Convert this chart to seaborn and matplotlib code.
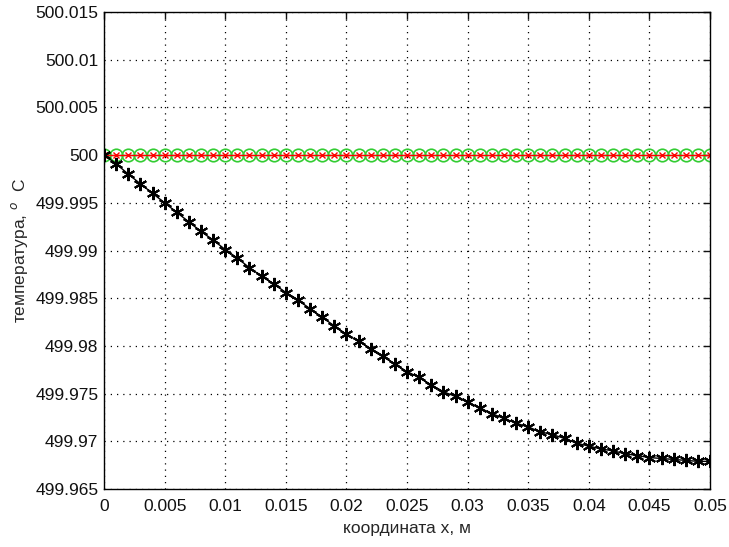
import numpy as np
import pandas as pd
import matplotlib
matplotlib.use("Agg")
import matplotlib.pyplot as plt
import seaborn as sns

# coordinate, m (sample points)
x_coord = [0.000, 0.001, 0.002, 0.003, 0.004, 0.005, 0.006, 0.007, 0.008, 0.009,
           0.010, 0.011, 0.012, 0.013, 0.014, 0.015, 0.016, 0.017, 0.018, 0.019,
           0.020, 0.021, 0.022, 0.023, 0.024, 0.025, 0.026, 0.027, 0.028, 0.029,
           0.030, 0.031, 0.032, 0.033, 0.034, 0.035, 0.036, 0.037, 0.038, 0.039,
           0.040, 0.041, 0.042, 0.043, 0.044, 0.045, 0.046, 0.047, 0.048, 0.049,
           0.050]

# temperature
temp_star = [500.0000, 499.9991, 499.9980, 499.9970, 499.9960, 499.9950, 499.9940,
             499.9930, 499.9920, 499.9911, 499.9901, 499.9892, 499.9882, 499.9873,
             499.9865, 499.9856, 499.9848, 499.9839, 499.9830, 499.9821, 499.9812,
             499.9805, 499.9797, 499.9789, 499.9781, 499.9773, 499.9767, 499.9759,
             499.9752, 499.9747, 499.9741, 499.9735, 499.9729, 499.9724, 499.9719,
             499.9715, 499.9710, 499.9707, 499.9703, 499.9698, 499.9695, 499.9692,
             499.9690, 499.9687, 499.9685, 499.9683, 499.9682, 499.9681, 499.9680,
             499.9679, 499.9679]

# flat curves at 500
temp_circle = [500.0] * 51
temp_cross = [500.0] * 51

xticks = [0, 0.005, 0.01, 0.015, 0.02, 0.025, 0.03, 0.035, 0.04, 0.045, 0.05]
xtick_labels = ["0", "0.005", "0.01", "0.015", "0.02", "0.025", "0.03", "0.035",
                "0.04", "0.045", "0.05"]
yticks = [499.965, 499.97, 499.975, 499.98, 499.985, 499.99, 499.995, 500,
          500.005, 500.01, 500.015]
ytick_labels = ["499.965", "499.97", "499.975", "499.98", "499.985", "499.99",
                "499.995", "500", "500.005", "500.01", "500.015"]

df = pd.DataFrame({"x": x_coord, "t_star": temp_star,
                   "t_circle": temp_circle, "t_cross": temp_cross})

sns.set_style("white")
plt.rcParams["font.family"] = ["Liberation Sans", "DejaVu Sans"]

fig = plt.figure(figsize=(7.29, 5.47), dpi=100)
ax = fig.add_axes([0.1427, 0.106, 0.8313, 0.872])

sns.lineplot(data=df, x="x", y="t_circle", ax=ax, color="#22cc22", linewidth=1,
             marker="o", markersize=9, markerfacecolor="none",
             markeredgecolor="#33cc33", markeredgewidth=1.2)
sns.lineplot(data=df, x="x", y="t_cross", ax=ax, color="red", linewidth=1,
             marker="x", markersize=5, markeredgecolor="red", markeredgewidth=1)
sns.lineplot(data=df, x="x", y="t_star", ax=ax, color="black", linewidth=1,
             marker=(6, 2, 0), markersize=9.5, markeredgecolor="black",
             markeredgewidth=1.5)

ax.set_xlim(0, 0.05)
ax.set_ylim(499.965, 500.015)
ax.set_xticks(xticks)
ax.set_xticklabels(xtick_labels)
ax.set_yticks(yticks)
ax.set_yticklabels(ytick_labels)
ax.tick_params(direction="in", length=5, width=1, top=True, right=True,
               labelsize=12.5, pad=4, colors="#111111")
ax.tick_params(axis="x", pad=7)
for s in ax.spines.values():
    s.set_color("black")
    s.set_linewidth(1)
ax.grid(True, color="black", linestyle=(0, (1, 4)), linewidth=0.9)

ax.set_xlabel("координата x, м", fontsize=12.5, labelpad=5)
ax.set_ylabel("температура, $^{o}$  C", fontsize=12.5, labelpad=4)

fig.savefig("out.png", dpi=100)
